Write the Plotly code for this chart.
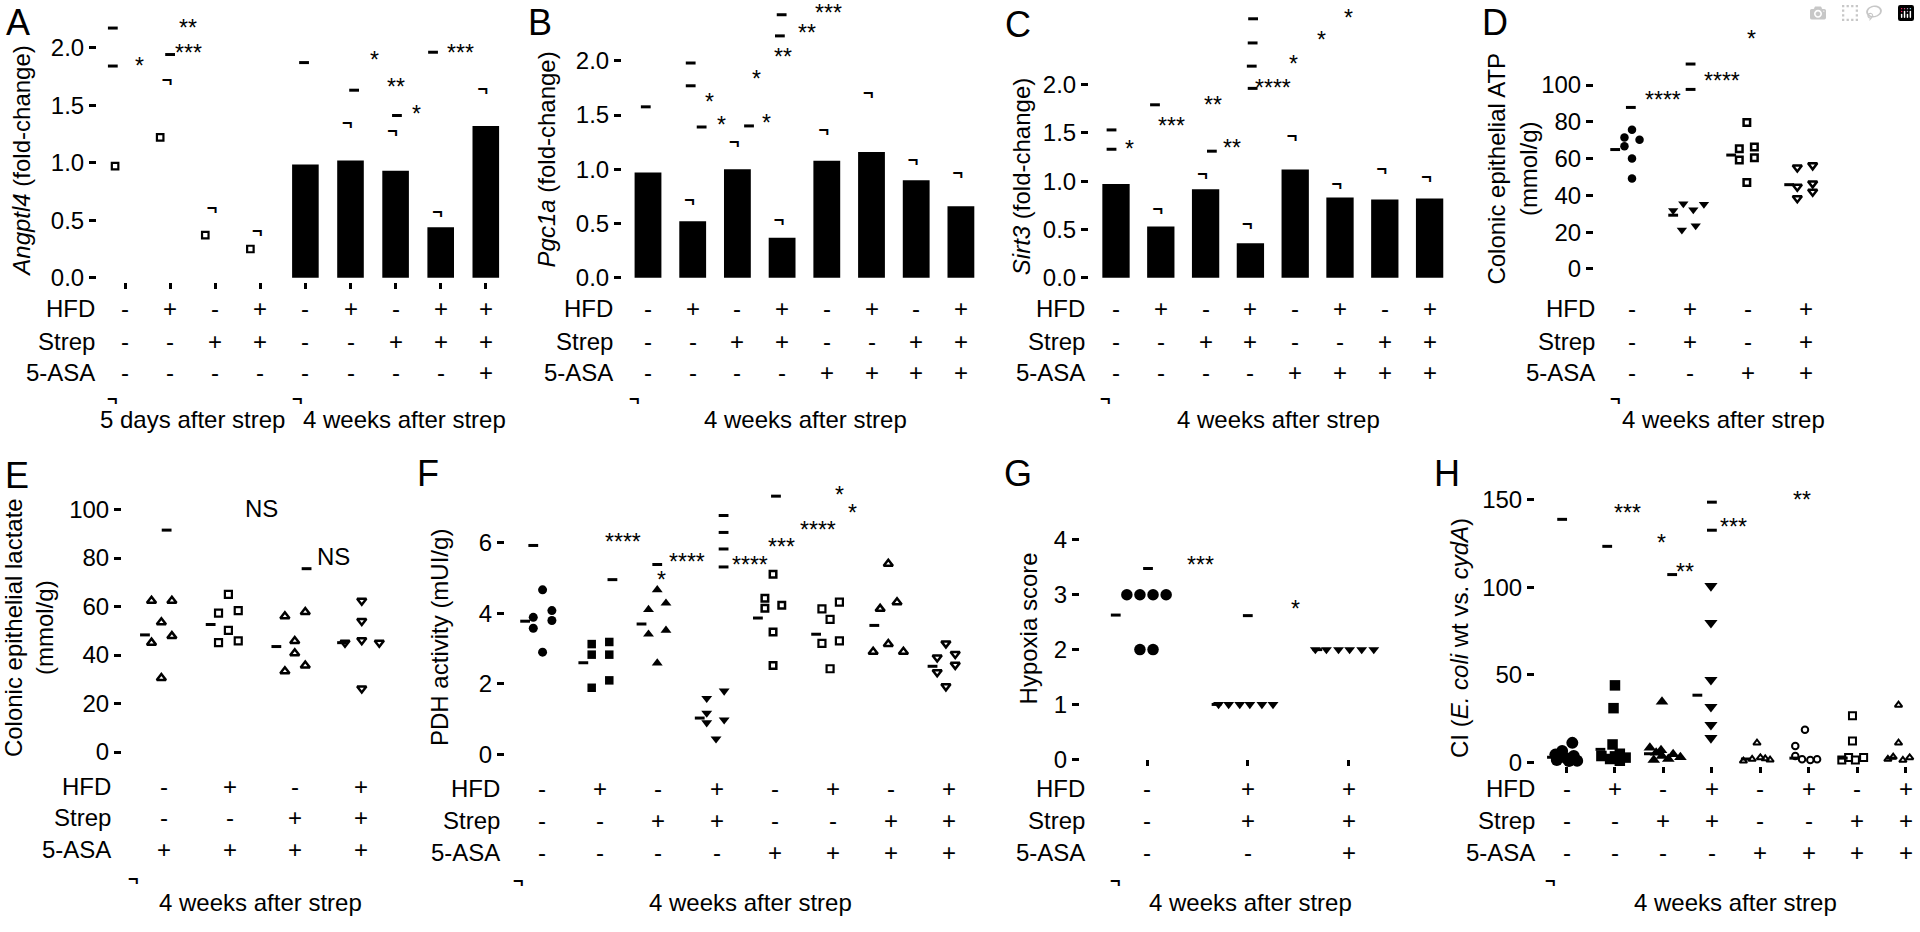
import plotly.graph_objects as go

# ======================= DATA =======================
ROW_LABELS = ["HFD", "Strep", "5-ASA"]

# --- A: Angptl4 (fold-change) ---
A_hfd   = ["-", "+", "-", "+", "-", "+", "-", "+", "+"]
A_strep = ["-", "-", "+", "+", "-", "-", "+", "+", "+"]
A_asa   = ["-", "-", "-", "-", "-", "-", "-", "-", "+"]
A_day5_mean  = [0.97, 1.22, 0.37, 0.25]
A_day5_upper = [None, 1.71, 0.59, 0.39]
A_wk4_mean   = [0.985, 1.02, 0.93, 0.44, 1.32]
A_wk4_upper  = [None, 1.33, 1.26, 0.56, 1.63]

# --- shared 8-group design (B, C, F, H) ---
G8_hfd   = ["-", "+", "-", "+", "-", "+", "-", "+"]
G8_strep = ["-", "-", "+", "+", "-", "-", "+", "+"]
G8_asa   = ["-", "-", "-", "-", "+", "+", "+", "+"]

# --- B: Pgc1a ---
B_mean  = [0.97, 0.52, 1.00, 0.37, 1.08, 1.16, 0.90, 0.66]
B_upper = [None, 0.70, 1.24, 0.52, 1.35, 1.69, 1.07, 0.95]

# --- C: Sirt3 ---
C_mean  = [0.97, 0.53, 0.915, 0.357, 1.12, 0.83, 0.81, 0.82]
C_upper = [None, 0.70, 1.055, 0.545, 1.45, 0.96, 1.105, 1.03]

# --- D: colonic epithelial ATP (mmol/g) ---
D_hfd   = ["-", "+", "-", "+"]
D_strep = ["-", "+", "-", "+"]
D_asa   = ["-", "-", "+", "+"]
D_ctrl          = [75.7, 71.5, 70.2, 66.7, 60.0, 49.2]
D_hfd_strep     = [31.8, 35.4, 32.2, 35.1, 21.1, 23.4]
D_asa_only      = [79.6, 65.3, 66.3, 59.2, 60.4, 47.0]
D_hfd_strep_asa = [55.1, 56.3, 44.7, 46.5, 38.4, 42.0]
D_center        = [64.9, 29.2, 61.9, 45.8]

# --- E: colonic epithelial lactate (mmol/g) ---
E_hfd   = ["-", "+", "-", "+"]
E_strep = ["-", "-", "+", "+"]
E_asa   = ["+", "+", "+", "+"]
E_asa_only      = [62.4, 62.4, 53.5, 47.8, 45.1, 30.5]
E_hfd_asa       = [65.0, 57.3, 58.3, 50.2, 45.1, 45.8]
E_strep_asa     = [56.0, 57.7, 45.8, 40.7, 33.3, 35.7]
E_hfd_strep_asa = [62.4, 54.0, 46.1, 45.1, 45.1, 26.2]
E_center        = [48.3, 52.6, 43.5, 45.1]

# --- F: PDH activity (mUI/g) ---
F_ctrl          = [4.67, 3.89, 4.08, 3.80, 3.58, 2.90]
F_hfd           = [3.13, 3.19, 2.83, 2.83, 1.89, 2.10]
F_strep         = [4.67, 4.11, 4.29, 3.41, 3.52, 2.59]
F_hfd_strep     = [1.59, 1.80, 1.17, 0.98, 0.90, 0.44]
F_asa           = [5.11, 4.43, 4.15, 4.23, 3.47, 2.52]
F_hfd_asa       = [4.32, 4.13, 3.83, 3.15, 3.22, 2.43]
F_strep_asa     = [5.41, 4.13, 4.32, 2.91, 3.13, 2.91]
F_hfd_strep_asa = [3.15, 2.75, 2.85, 2.54, 2.33, 1.93]
F_center        = [3.78, 2.60, 3.70, 1.03, 3.87, 3.41, 3.66, 2.50]

# --- G: hypoxia score ---
G_hfd   = ["-", "+", "+"]
G_strep = ["-", "+", "+"]
G_asa   = ["-", "-", "+"]
G_ctrl          = [3, 3, 3, 3, 2, 2]
G_hfd_strep     = [1, 1, 1, 1, 1, 1]
G_hfd_strep_asa = [2, 2, 2, 2, 2, 2]
G_center        = [2.63, 1.0, 2.0]

# --- H: CI (E. coli wt vs. cydA) ---
H_ctrl          = [11.2, 6.5, 4.5, 3.7, 2.5, 1.5, 1.0, 0.9]
H_hfd           = [44.0, 31.0, 10.3, 5.0, 3.7, 3.5, 2.8, 2.0, 1.0]
H_strep         = [34.6, 8.4, 7.0, 5.6, 4.7, 3.7, 3.0, 2.0, 1.5]
H_hfd_strep     = [100.7, 79.7, 47.2, 31.8, 21.5, 14.0]
H_asa           = [11.2, 0.9, 1.9, 2.8, 2.2, 1.5]
H_hfd_asa       = [18.7, 9.4, 3.7, 1.9, 1.5, 1.9]
H_strep_asa     = [26.6, 12.2, 1.5, 2.8, 1.5, 2.8]
H_hfd_strep_asa = [32.8, 11.2, 1.9, 3.2, 1.3, 2.8]
H_center        = [3.0, 7.5, 5.0, 38.4, 2.0, 2.5, 2.5, 2.5]

# ======================= LAYOUT / STYLE =======================
FONT = "Liberation Sans, Arial, Helvetica, sans-serif"
W, H = 1920, 932
TXT = 24
STAR = 23

def pxx(x):
    return x / W

def pyy(y):
    return 1 - y / H

def axn(n):
    return ("x" if n == 1 else f"x{n}"), ("y" if n == 1 else f"y{n}")

# pixel geometry of each panel (plot box, category origin/spacing, value origin/scale)
GEOM = {
    1: dict(left=97, right=510, top=0, bottom=286, x0=125, dx=45.1, y0=281.7, k=116.7,
            yt=[0, 0.5, 1, 1.5, 2], fmt=".1f", n=9, xt=True),
    2: dict(left=622, right=985, top=0, bottom=284, x0=648, dx=44.7, y0=281.7, k=110.0,
            yt=[0, 0.5, 1, 1.5, 2], fmt=".1f", n=8, xt=False),
    3: dict(left=1089, right=1450, top=0, bottom=284, x0=1116, dx=44.8, y0=281.7, k=98.0,
            yt=[0, 0.5, 1, 1.5, 2], fmt=".1f", n=8, xt=False),
    4: dict(left=1594, right=1850, top=0, bottom=275, x0=1632, dx=58.0, y0=272.7, k=1.865,
            yt=[0, 20, 40, 60, 80, 100], fmt="d", n=4, xt=False),
    5: dict(left=122, right=410, top=470, bottom=765, x0=164, dx=65.7, y0=762.7, k=2.46,
            yt=[0, 20, 40, 60, 80, 100], fmt="d", n=4, xt=False),
    6: dict(left=505, right=985, top=470, bottom=767, x0=542, dx=58.2, y0=765.0, k=35.72,
            yt=[0, 2, 4, 6], fmt="d", n=8, xt=False),
    7: dict(left=1080, right=1395, top=470, bottom=770, x0=1147, dx=100.8, y0=770.0, k=55.6,
            yt=[0, 1, 2, 3, 4], fmt="d", n=3, xt=True),
    8: dict(left=1535, right=1918, top=470, bottom=777, x0=1566.5, dx=48.47, y0=773.3, k=1.778,
            yt=[0, 50, 100, 150], fmt="d", n=8, xt=True),
}

fig = go.Figure()
ann = []

layout = dict(width=W, height=H, margin=dict(l=0, r=0, t=0, b=0),
              paper_bgcolor="white", plot_bgcolor="white", showlegend=False,
              font=dict(family=FONT, size=TXT, color="black"), hovermode=False)

for n, g in GEOM.items():
    xa, ya = axn(n)
    xk = "xaxis" if n == 1 else f"xaxis{n}"
    yk = "yaxis" if n == 1 else f"yaxis{n}"
    layout[xk] = dict(domain=[pxx(g["left"]), pxx(g["right"])],
                      range=[(g["left"] - g["x0"]) / g["dx"], (g["right"] - g["x0"]) / g["dx"]],
                      anchor=ya, showgrid=False, zeroline=False, showline=False,
                      showticklabels=False, ticks="outside" if g["xt"] else "",
                      tickvals=list(range(g["n"])), ticklen=6, tickwidth=2.5,
                      tickcolor="black", fixedrange=True)
    layout[yk] = dict(domain=[pyy(g["bottom"]), pyy(g["top"])],
                      range=[(g["y0"] - g["bottom"]) / g["k"], (g["y0"] - g["top"]) / g["k"]],
                      anchor=xa, showgrid=False, zeroline=False, showline=False,
                      ticks="outside", ticklen=7, tickwidth=2.5, tickcolor="black",
                      tickvals=g["yt"], tickformat=g["fmt"],
                      tickfont=dict(size=TXT, family=FONT, color="black"), fixedrange=True)


def pts(n, xs, ys, symbol, size, lw=0):
    xa, ya = axn(n)
    fig.add_trace(go.Scatter(x=xs, y=ys, mode="markers", xaxis=xa, yaxis=ya,
                             cliponaxis=False, hoverinfo="skip",
                             marker=dict(symbol=symbol, size=size, color="black",
                                         line=dict(width=lw, color="black"))))


def dashes(n, xs, ys):
    pts(n, xs, ys, "line-ew", 7, 3)


def caps(n, xs, ys):
    xa, ya = axn(n)
    keep = [(x, y) for x, y in zip(xs, ys) if y is not None]
    fig.add_trace(go.Scatter(x=[p[0] for p in keep], y=[p[1] for p in keep], mode="text",
                             text=["¬"] * len(keep), textposition="middle center",
                             textfont=dict(family=FONT, size=18, color="black", weight="bold"),
                             xaxis=xa, yaxis=ya, cliponaxis=False, hoverinfo="skip"))


def bars(n, xs, ys, width):
    xa, ya = axn(n)
    fig.add_trace(go.Bar(x=xs, y=ys, width=width, xaxis=xa, yaxis=ya, hoverinfo="skip",
                         marker=dict(color="black", line=dict(width=0))))


def groups(n, values, jitter, symbols, sizes, lws, centers, coff):
    for i, (vals, jit) in enumerate(zip(values, jitter)):
        pts(n, [i + j for j in jit], vals, symbols[i], sizes[i], lws[i])
    dashes(n, [i + coff for i in range(len(centers))], centers)


def sig(n, stars, dash_pts):
    xa, ya = axn(n)
    for x, y, t in stars:
        ann.append(dict(x=x, y=y, xref=xa, yref=ya, text=t, showarrow=False,
                        font=dict(size=STAR if "*" in t else TXT),
                        yshift=-5 if "*" in t else 0, xanchor="center", yanchor="middle"))
    if dash_pts:
        dashes(n, [p[0] for p in dash_pts], [p[1] for p in dash_pts])


def table(n, rows_y, label_right, hfd, strep, asa):
    xa, ya = axn(n)
    for label, signs, y in zip(ROW_LABELS, [hfd, strep, asa], rows_y):
        ann.append(dict(x=pxx(label_right), y=pyy(y), xref="paper", yref="paper", text=label,
                        showarrow=False, xanchor="right", yanchor="middle"))
        for i, s in enumerate(signs):
            ann.append(dict(x=i, y=pyy(y), xref=xa, yref="paper", text=s, showarrow=False,
                            xanchor="center", yanchor="middle"))


ROWS_TOP = [313.3, 346.5, 378.0]
ROWS_E = [797.3, 829.3, 861.7]
ROWS_BOT = [800.0, 831.7, 865.0]

# ---------------- Panel A ----------------
n_day5 = len(A_day5_mean)
pts(1, [i - 0.22 for i in range(n_day5)], A_day5_mean, "square-open", 6.5, 2.2)
caps(1, [i - 0.07 for i in range(n_day5)], A_day5_upper)
bars(1, [n_day5 + i for i in range(len(A_wk4_mean))], A_wk4_mean, 0.59)
caps(1, [n_day5 + i - 0.07 for i in range(len(A_wk4_mean))], A_wk4_upper)
sig(1, [(1.40, 2.215, "**"), (1.40, 2.0, "***"), (0.33, 1.88, "*"), (5.54, 1.94, "*"),
        (6.0, 1.70, "**"), (6.47, 1.47, "*"), (7.43, 2.0, "***")],
    [(1.0, 1.94), (-0.27, 2.17), (-0.27, 1.84), (3.97, 1.87), (5.08, 1.63), (6.03, 1.41),
     (6.83, 1.96)])
table(1, ROWS_TOP, 97, A_hfd, A_strep, A_asa)

# ---------------- Panel B ----------------
bars(2, list(range(len(B_mean))), B_mean, 0.6)
caps(2, [i - 0.07 for i in range(len(B_upper))], B_upper)
sig(2, [(1.365, 1.67, "*"), (1.65, 1.455, "*"), (2.655, 1.47, "*"), (2.43, 1.88, "*"),
        (3.02, 2.08, "**"), (3.55, 2.30, "**"), (4.03, 2.485, "***")],
    [(-0.05, 1.576), (0.955, 1.98), (0.955, 1.77), (1.20, 1.39), (2.26, 1.40), (2.95, 2.23),
     (2.99, 2.425)])
table(2, ROWS_TOP, 615, G8_hfd, G8_strep, G8_asa)

# ---------------- Panel C ----------------
bars(3, list(range(len(C_mean))), C_mean, 0.61)
caps(3, [i - 0.07 for i in range(len(C_upper))], C_upper)
sig(3, [(0.31, 1.38, "*"), (1.24, 1.62, "***"), (2.17, 1.84, "**"), (2.58, 1.395, "**"),
        (3.51, 2.02, "****"), (3.96, 2.26, "*"), (4.58, 2.51, "*"), (5.19, 2.74, "*")],
    [(-0.10, 1.53), (-0.10, 1.33), (0.87, 1.79), (2.14, 1.31), (3.05, 1.96), (3.03, 2.19),
     (3.05, 2.43), (3.06, 2.68)])
table(3, ROWS_TOP, 1087, G8_hfd, G8_strep, G8_asa)

# ---------------- Panel D ----------------
D_jit = [[0, -0.13, 0.13, -0.13, 0, 0],
         [-0.29, -0.115, 0.057, 0.24, -0.14, 0.098],
         [-0.02, -0.15, 0.11, -0.15, 0.11, -0.02],
         [-0.15, 0.115, -0.15, 0.115, -0.15, 0.115]]
groups(4, [D_ctrl, D_hfd_strep, D_asa_only, D_hfd_strep_asa], D_jit,
       ["circle", "triangle-down", "square-open", "triangle-down-open"],
       [8.5, 9, 6.5, 8], [0, 0, 2.5, 2.5], D_center, -0.29)
sig(4, [(0.54, 94.4, "****"), (1.55, 104.8, "****"), (2.06, 127.5, "*")],
    [(1.01, 97.6), (1.01, 111.4), (-0.02, 87.8)])
table(4, ROWS_TOP, 1597, D_hfd, D_strep, D_asa)

# ---------------- Panel E ----------------
E_jit = [[-0.19, 0.12, -0.04, 0.12, -0.19, -0.04],
         [-0.02, -0.17, 0.13, -0.02, -0.17, 0.13],
         [-0.16, 0.15, -0.01, -0.01, -0.16, 0.15],
         [0.01, 0.01, 0.01, -0.245, 0.277, 0.01]]
groups(5, [E_asa_only, E_hfd_asa, E_strep_asa, E_hfd_strep_asa], E_jit,
       ["triangle-up-open", "square-open", "triangle-up-open", "triangle-down-open"],
       [8, 7, 8, 8], [2.5, 2.2, 2.5, 2.5], E_center, -0.29)
sig(5, [(1.487, 100.3, "NS"), (2.577, 80.8, "NS")], [(0.04, 91.5), (2.17, 75.6)])
table(5, ROWS_E, 113, E_hfd, E_strep, E_asa)

# ---------------- Panel F ----------------
F_jit = [[0.01, -0.15, 0.17, 0.17, -0.15, 0.01],
         [-0.146, 0.156, -0.146, 0.156, -0.146, 0.156],
         [-0.02, -0.17, 0.13, -0.17, 0.13, -0.02],
         [-0.17, 0.13, -0.17, 0.13, -0.17, -0.01],
         [-0.03, -0.17, -0.17, 0.12, -0.03, -0.03],
         [0.11, -0.19, -0.05, -0.19, 0.11, -0.05],
         [-0.05, -0.19, 0.10, -0.31, -0.05, 0.21],
         [-0.06, -0.21, 0.10, 0.10, -0.21, -0.06]]
groups(6, [F_ctrl, F_hfd, F_strep, F_hfd_strep, F_asa, F_hfd_asa, F_strep_asa, F_hfd_strep_asa],
       F_jit,
       ["circle", "square", "triangle-up", "triangle-down", "square-open", "square-open",
        "triangle-up-open", "triangle-down-open"],
       [9, 8.5, 9.5, 9.5, 6.5, 7, 8, 8], [0, 0, 0, 0, 2.5, 2.2, 2.5, 2.5], F_center, -0.29)
sig(6, [(1.40, 6.16, "****"), (2.06, 5.09, "*"), (2.49, 5.60, "****"), (3.57, 5.51, "****"),
        (4.12, 6.04, "***"), (4.75, 6.50, "****"), (5.12, 7.51, "*"), (5.33, 7.00, "*")],
    [(-0.15, 5.93), (1.21, 4.96), (1.98, 5.39), (3.12, 6.78), (3.12, 6.30), (3.12, 5.83),
     (3.12, 5.32), (4.02, 7.33)])
table(6, ROWS_BOT, 502, G8_hfd, G8_strep, G8_asa)

# ---------------- Panel G ----------------
G_jit = [[-0.20, -0.07, 0.06, 0.19, -0.07, 0.06],
         [-0.29, -0.19, -0.08, 0.02, 0.14, 0.25],
         [-0.33, -0.22, -0.10, 0.01, 0.13, 0.25]]
groups(7, [G_ctrl, G_hfd_strep, G_hfd_strep_asa], G_jit,
       ["circle", "triangle-down", "triangle-down"], [11.5, 9.5, 9.5], [0, 0, 0],
       G_center, -0.31)
sig(7, [(0.526, 3.63, "***"), (1.47, 2.83, "*")], [(1.0, 2.62), (0.01, 3.48)])
table(7, ROWS_BOT, 1087, G_hfd, G_strep, G_asa)

# ---------------- Panel H ----------------
H_jit = [[0.12, -0.09, -0.23, 0.15, 0.0, -0.2, 0.22, 0.05],
         [0.0, -0.03, -0.05, 0.1, -0.28, 0.0, 0.22, -0.1, 0.1],
         [-0.03, -0.28, -0.05, -0.15, 0.2, -0.03, 0.35, 0.1, -0.2],
         [-0.02, -0.02, -0.02, -0.02, -0.02, -0.02],
         [-0.07, -0.35, -0.17, 0.0, 0.1, 0.2],
         [-0.08, -0.28, -0.28, -0.14, 0.03, 0.17],
         [-0.1, -0.1, -0.32, -0.18, -0.04, 0.13],
         [-0.15, -0.15, -0.37, -0.26, -0.06, 0.08]]
groups(8, [H_ctrl, H_hfd, H_strep, H_hfd_strep, H_asa, H_hfd_asa, H_strep_asa, H_hfd_strep_asa],
       H_jit,
       ["circle", "square", "triangle-up", "triangle-down", "triangle-up-open", "circle-open",
        "square-open", "triangle-up-open"],
       [12, 10.5, 11, 11.5, 6.5, 6.5, 7, 6.5], [0, 0, 0, 0, 2, 2, 2, 2], H_center, -0.3)
sig(8, [(1.25, 145.3, "***"), (1.95, 127.8, "*"), (2.45, 111.5, "**"), (3.45, 137.2, "***"),
        (4.86, 152.8, "**")],
    [(-0.09, 138.7), (0.84, 123.3), (2.18, 107.2), (3.0, 148.5), (3.0, 132.5)])
table(8, ROWS_BOT, 1537, G8_hfd, G8_strep, G8_asa)

# ---------------- paper-level texts ----------------
LETTERS = [("A", 18, 23), ("B", 540, 23), ("C", 1018, 25), ("D", 1495, 23),
           ("E", 17, 482), ("F", 428, 480), ("G", 1018, 480), ("H", 1447, 480)]
for t, x, y in LETTERS:
    ann.append(dict(x=pxx(x), y=pyy(y), xref="paper", yref="paper", text=t, showarrow=False,
                    font=dict(size=36), xanchor="center", yanchor="middle"))

YTITLES = [(22, 164, "<i>Angptl4</i> (fold-change)"),
           (546.7, 162, "<i>Pgc1a</i> (fold-change)"),
           (1021.7, 179, "<i>Sirt3</i> (fold-change)"),
           (1512, 171, "Colonic epithelial ATP<br>(mmol/g)"),
           (29, 637, "Colonic epithelial lactate<br>(mmol/g)"),
           (440, 647, "PDH activity (mUI/g)"),
           (1028.3, 637, "Hypoxia score"),
           (1460, 647, "CI (<i>E. coli</i> wt vs. <i>cydA</i>)")]
for x, y, t in YTITLES:
    ann.append(dict(x=pxx(x), y=pyy(y), xref="paper", yref="paper", text=t, showarrow=False,
                    textangle=-90, xanchor="center", yanchor="middle"))

CAPTIONS = [(192, 425, "5 days after strep"), (404, 425, "4 weeks after strep"),
            (805, 425, "4 weeks after strep"), (1278, 425, "4 weeks after strep"),
            (1723, 425, "4 weeks after strep"), (260, 915, "4 weeks after strep"),
            (750, 915, "4 weeks after strep"), (1250, 915, "4 weeks after strep"),
            (1735, 915, "4 weeks after strep")]
for x, y, t in CAPTIONS:
    ann.append(dict(x=pxx(x), y=pyy(y), xref="paper", yref="paper", text=t, showarrow=False,
                    xanchor="center", yanchor="middle"))

CORNERS = [(112, 405), (297, 405), (634, 405), (1105.7, 405), (1615, 405),
           (133.3, 891.7), (518.3, 893.3), (1115, 893.3), (1550, 893.3)]
for x, y in CORNERS:
    ann.append(dict(x=pxx(x), y=pyy(y), xref="paper", yref="paper", text="<b>¬</b>",
                    showarrow=False, font=dict(size=18), xanchor="center", yanchor="middle"))

layout["annotations"] = ann
fig.update_layout(**layout)

fig.write_html("out.html", post_script="document.body.style.margin='0';document.body.style.overflow='hidden';")
